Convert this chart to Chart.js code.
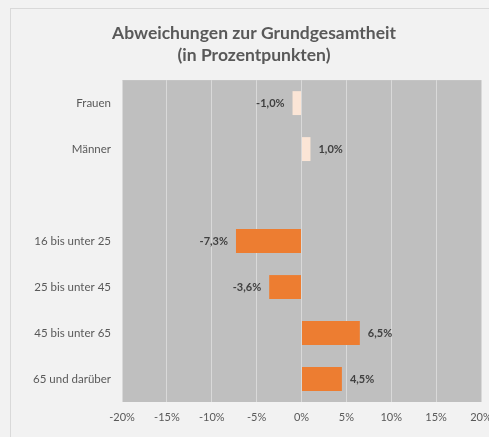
<!DOCTYPE html>
<html>
<head>
<meta charset="utf-8">
<script src="https://cdn.jsdelivr.net/npm/chart.js@4/dist/chart.umd.min.js"></script>
<style>
  html, body { margin: 0; padding: 0; background: #F2F2F2; overflow: hidden; }
  #frame { position: absolute; left: 10px; top: 8px; width: 600px; height: 600px; border: 1px solid #D9D9D9; }
  #wrap { position: absolute; left: 0; top: 0; width: 489px; height: 437px; }
</style>
</head>
<body>
<div id="frame"></div>
<div id="wrap"><canvas id="chart" width="489" height="437"></canvas></div>
<script>
const categories = ['Frauen', 'Männer', '', '16 bis unter 25', '25 bis unter 45', '45 bis unter 65', '65 und darüber'];
const deviations = [-1.0, 1.0, null, -7.3, -3.6, 6.5, 4.5];
const barColors = ['#FBE5D6', '#FBE5D6', '#ED7D31', '#ED7D31', '#ED7D31', '#ED7D31', '#ED7D31'];
const xTicks = [-20, -15, -10, -5, 0, 5, 10, 15, 20];

const fmt = v => v.toFixed(1).replace('.', ',') + '%';

// grey plot background
const plotBg = {
  id: 'plotBg',
  beforeDraw(chart) {
    const { ctx, chartArea: a } = chart;
    ctx.save();
    ctx.fillStyle = '#BFBFBF';
    ctx.fillRect(a.left, a.top, a.right - a.left, a.bottom - a.top);
    ctx.restore();
  }
};

// value labels at bar ends
const valueLabels = {
  id: 'valueLabels',
  afterDatasetsDraw(chart) {
    const { ctx } = chart;
    const meta = chart.getDatasetMeta(0);
    ctx.save();
    ctx.font = 'bold 11px Lato';
    ctx.fillStyle = '#404040';
    ctx.textBaseline = 'middle';
    meta.data.forEach((bar, i) => {
      const v = deviations[i];
      if (v === null) return;
      if (v < 0) {
        ctx.textAlign = 'right';
        ctx.fillText(fmt(v), bar.x - 8, bar.y);
      } else {
        ctx.textAlign = 'left';
        ctx.fillText(fmt(v), bar.x + 8, bar.y);
      }
    });
    ctx.restore();
  }
};

new Chart(document.getElementById('chart'), {
  type: 'bar',
  data: {
    labels: categories,
    datasets: [{
      data: deviations,
      backgroundColor: barColors,
      barPercentage: 0.52,
      categoryPercentage: 1.0
    }]
  },
  options: {
    indexAxis: 'y',
    responsive: false,
    animation: false,
    layout: { padding: { left: 27, right: 8, top: 0, bottom: 0 } },
    plugins: {
      legend: { display: false },
      tooltip: { enabled: false },
      title: {
        display: true,
        text: ['Abweichungen zur Grundgesamtheit', '(in Prozentpunkten)'],
        color: '#595959',
        font: { family: 'Lato', size: 17.5, weight: 'bold', lineHeight: 1.26 },
        padding: { top: 22, bottom: 14 }
      }
    },
    scales: {
      x: {
        min: -20,
        max: 20,
        afterBuildTicks: scale => { scale.ticks = xTicks.map(v => ({ value: v })); },
        afterFit: scale => {
          scale.height = 35;
          scale.paddingLeft = 0;
          scale.paddingRight = 0;
        },
        grid: { color: '#D9D9D9', lineWidth: 1, drawTicks: false },
        border: { display: false },
        ticks: {
          color: '#595959',
          font: { family: 'Lato', size: 11 },
          padding: 9,
          callback: v => v + '%'
        }
      },
      y: {
        afterFit: scale => { scale.width = 95; },
        grid: { display: false, drawTicks: false },
        border: { display: false },
        ticks: {
          color: '#595959',
          font: { family: 'Lato', size: 11.5 },
          padding: 11
        }
      }
    }
  },
  plugins: [plotBg, valueLabels]
});
</script>
</body>
</html>
